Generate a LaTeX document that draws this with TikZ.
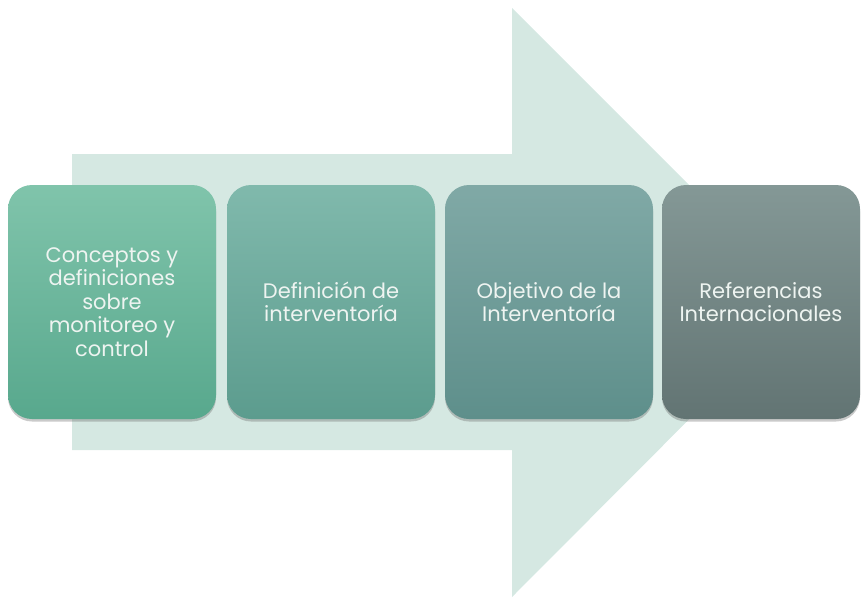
\documentclass[tikz,border=0pt]{standalone}
\usepackage{fontspec}
\setmainfont{Poppins}
\usetikzlibrary{shadows}
\definecolor{arrowbg}{HTML}{D5E8E2}
\definecolor{aT}{HTML}{80C4AB}\definecolor{aB}{HTML}{58A88D}
\definecolor{bT}{HTML}{80B9AC}\definecolor{bB}{HTML}{5C9C8E}
\definecolor{cT}{HTML}{80A9A6}\definecolor{cB}{HTML}{5E8F8B}
\definecolor{dT}{HTML}{849896}\definecolor{dB}{HTML}{627473}
\definecolor{txt}{HTML}{EEF4F1}
\tikzset{
  stepbox/.style={rounded corners=24pt, minimum height=234pt, inner sep=0pt,
    text=txt, align=center, font=\fontsize{21}{23.5}\selectfont,
    drop shadow={shadow xshift=0pt, shadow yshift=-2.5pt, opacity=0.35, fill=black!60}},
}
\begin{document}
\begin{tikzpicture}[x=1pt,y=-1pt]
\useasboundingbox (0,0) rectangle (862,597);
\fill[arrowbg] (72,154) -- (512,154) -- (512,8) -- (806,302) -- (512,597) -- (512,450) -- (72,450) -- cycle;
\node[stepbox, minimum width=208pt, top color=aT, bottom color=aB] (b1) at (112,302) {Conceptos y\\definiciones\\sobre\\monitoreo y\\control};
\node[stepbox, minimum width=208pt, top color=bT, bottom color=bB] (b2) at (331,302) {Definición de\\interventoría};
\node[stepbox, minimum width=208pt, top color=cT, bottom color=cB] (b3) at (549,302) {Objetivo de la\\Interventoría};
\node[stepbox, minimum width=198pt, top color=dT, bottom color=dB] (b4) at (761,302) {Referencias\\Internacionales};
\end{tikzpicture}
\end{document}
